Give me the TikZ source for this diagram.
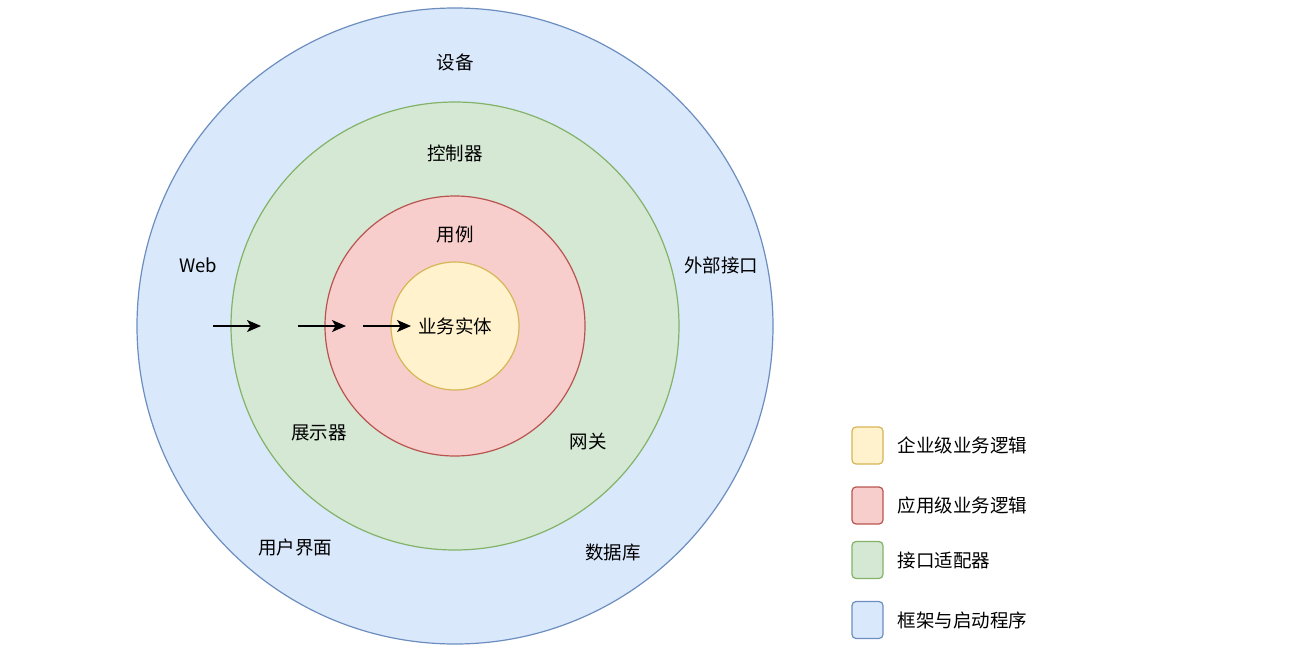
\documentclass[tikz,border=0pt]{standalone}
\usepackage{fontspec}
\setmainfont{Noto Sans CJK SC}
\usetikzlibrary{arrows.meta,positioning}
\definecolor{blueFill}{HTML}{DAE8FC}\definecolor{blueLine}{HTML}{6C8EBF}
\definecolor{greenFill}{HTML}{D5E8D4}\definecolor{greenLine}{HTML}{82B366}
\definecolor{redFill}{HTML}{F8CECC}\definecolor{redLine}{HTML}{B85450}
\definecolor{yellowFill}{HTML}{FFF2CC}\definecolor{yellowLine}{HTML}{D6B656}

\begin{document}
\begin{tikzpicture}[x=1pt,y=-1pt,
    ring/.style={circle,inner sep=0pt,line width=1.2pt},
    lbl/.style={font=\fontsize{18.5}{22}\selectfont,inner sep=0pt},
    key/.style={rectangle,rounded corners=4pt,line width=1.2pt,
        minimum width=31pt,minimum height=37pt,inner sep=0pt},
    flow/.style={line width=1.3pt,-{Stealth[length=14pt,width=12pt,inset=3.5pt]}}]
    \useasboundingbox (0,0) rectangle (1304,648);
    % rings
    \node[ring,draw=blueLine,fill=blueFill,minimum size=636pt] (frame) at (455,326) {};
    \node[ring,draw=greenLine,fill=greenFill,minimum size=448pt] (adapt) at (455,326) {};
    \node[ring,draw=redLine,fill=redFill,minimum size=260pt] (usecase) at (455,326) {};
    \node[ring,draw=yellowLine,fill=yellowFill,minimum size=128pt] (entity) at (455,326) {};
    % labels
    \node[lbl] (device) at (455,62) {设备};
    \node[lbl] (web) at (198,265) {Web};
    \node[lbl] (extif) at (721,265) {外部接口};
    \node[lbl] (ui) at (295,547) {用户界面};
    \node[lbl] (db) at (613,552) {数据库};
    \node[lbl] (ctrl) at (455,153) {控制器};
    \node[lbl] (pres) at (319,433) {展示器};
    \node[lbl] (gw) at (588,441) {网关};
    \node[lbl] (uc) at (455,235) {用例};
    \node[lbl] (ent) at (455,326) {业务实体};
    % arrows
    \coordinate (a1) at (213,326);
    \coordinate (b1) at (261,326);
    \coordinate (a2) at (298,326);
    \coordinate (b2) at (346,326);
    \coordinate (a3) at (363,326);
    \coordinate (b3) at (411,326);
    \draw[flow] (a1)--(b1);
    \draw[flow] (a2)--(b2);
    \draw[flow] (a3)--(b3);
    % legend
    \node[key,draw=yellowLine,fill=yellowFill] (k1) at (867.5,445.5) {};
    \node[key,draw=redLine,fill=redFill] (k2) at (867.5,505.5) {};
    \node[key,draw=greenLine,fill=greenFill] (k3) at (867.5,560) {};
    \node[key,draw=blueLine,fill=blueFill] (k4) at (867.5,620) {};
    \node[lbl,right=14pt of k1] {企业级业务逻辑};
    \node[lbl,right=14pt of k2] {应用级业务逻辑};
    \node[lbl,right=14pt of k3] {接口适配器};
    \node[lbl,right=14pt of k4] {框架与启动程序};
\end{tikzpicture}
\end{document}
